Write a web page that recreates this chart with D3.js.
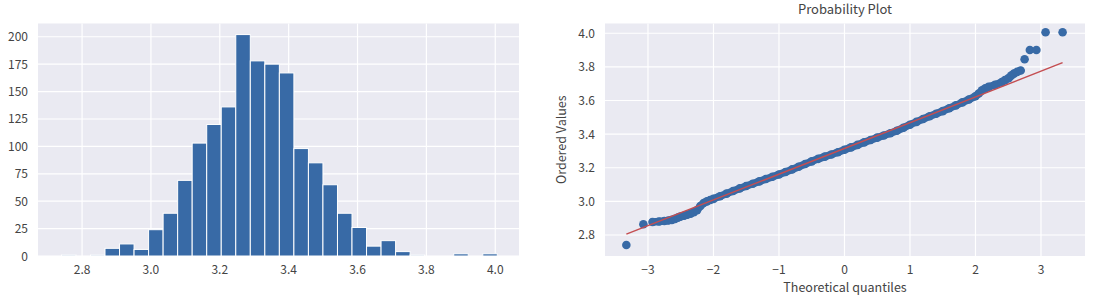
<!DOCTYPE html>
<html>
<head>
<meta charset="utf-8">
<script src="https://cdn.jsdelivr.net/npm/d3@7"></script>
<style>
  html, body { margin: 0; padding: 0; background: #fff; }
  text { font-family: "Noto Sans CJK JP", "Noto Sans", sans-serif; fill: #444; }
</style>
</head>
<body>
<div id="chart"></div>
<script>
// histogram: 30 bins between min and max of the sample
const histMin = 2.74;
const histMax = 4.006;
const histCounts = [1, 0, 1, 7, 11, 6, 24, 39, 69, 103, 120, 136, 202, 178, 175,
  167, 98, 85, 65, 39, 26, 9, 14, 4, 1, 0, 0, 2, 0, 2];
const histXTicks = [2.8, 3.0, 3.2, 3.4, 3.6, 3.8, 4.0];
const histYTicks = [0, 25, 50, 75, 100, 125, 150, 175, 200];

// probability plot: [theoretical quantile, ordered value]
const qqPoints = [
  [-3.33, 2.740], [-3.07, 2.864], [-2.93, 2.877], [-2.83, 2.880], [-2.75, 2.883],
  [-2.69, 2.886], [-2.635, 2.890], [-2.587, 2.896], [-2.545, 2.903], [-2.506, 2.909],
  [-2.45, 2.914], [-2.40, 2.920], [-2.35, 2.927], [-2.30, 2.936], [-2.25, 2.948],
  [-2.20, 2.972], [-2.15, 2.990], [-2.10, 3.000], [-2.05, 3.008], [-2.00, 3.015],
  [-1.90, 3.030], [-1.80, 3.046], [-1.70, 3.062], [-1.60, 3.077], [-1.50, 3.091],
  [-1.40, 3.105], [-1.30, 3.119], [-1.20, 3.133], [-1.10, 3.146], [-1.00, 3.160],
  [-0.90, 3.175], [-0.80, 3.190], [-0.70, 3.206], [-0.60, 3.222], [-0.50, 3.238],
  [-0.40, 3.253], [-0.30, 3.266], [-0.20, 3.279], [-0.10, 3.292], [0.00, 3.307],
  [0.10, 3.321], [0.20, 3.336], [0.30, 3.351], [0.40, 3.365], [0.50, 3.379],
  [0.60, 3.392], [0.70, 3.405], [0.80, 3.420], [0.90, 3.438], [1.00, 3.456],
  [1.10, 3.473], [1.20, 3.490], [1.30, 3.506], [1.40, 3.521], [1.50, 3.537],
  [1.60, 3.554], [1.70, 3.571], [1.80, 3.589], [1.90, 3.606], [2.00, 3.625],
  [2.05, 3.642], [2.10, 3.660], [2.15, 3.672], [2.20, 3.681], [2.30, 3.694],
  [2.40, 3.709], [2.45, 3.721], [2.506, 3.733], [2.545, 3.748], [2.587, 3.760],
  [2.635, 3.770], [2.69, 3.778], [2.75, 3.845], [2.83, 3.900], [2.93, 3.900],
  [3.07, 4.006], [3.33, 4.006]
];
// least squares fit line end points
const fitLine = [[-3.33, 2.805], [3.33, 3.825]];
const qqXTicks = [-3, -2, -1, 0, 1, 2, 3];
const qqYTicks = [2.8, 3.0, 3.2, 3.4, 3.6, 3.8, 4.0];

const W = 1101, H = 303;
const BG = "#EAEAF2";
const BLUE = "#386aa6";
const RED = "#C44E52";
const axTop = 23.5, axBottom = 256;

const svg = d3.select("#chart").append("svg")
  .attr("width", W).attr("height", H);

const fmtMinus = (v, f) => d3.format(f)(v).replace("-", "\u2212");

function frame(g, x, y, xTicks, yTicks, xf, yf) {
  const [x0, x1] = x.range();
  g.append("rect")
    .attr("x", x0).attr("y", axTop)
    .attr("width", x1 - x0).attr("height", axBottom - axTop)
    .attr("fill", BG);
  g.append("g").selectAll("line").data(xTicks).join("line")
    .attr("x1", d => x(d)).attr("x2", d => x(d))
    .attr("y1", axTop).attr("y2", axBottom)
    .attr("stroke", "#fff").attr("stroke-width", 1.2);
  g.append("g").selectAll("line").data(yTicks).join("line")
    .attr("x1", x0).attr("x2", x1)
    .attr("y1", d => y(d)).attr("y2", d => y(d))
    .attr("stroke", "#fff").attr("stroke-width", 1.2);
  g.append("g").selectAll("text").data(xTicks).join("text")
    .attr("x", d => x(d)).attr("y", axBottom + 18)
    .attr("text-anchor", "middle").style("font-size", "12px")
    .text(d => fmtMinus(d, xf));
  g.append("g").selectAll("text").data(yTicks).join("text")
    .attr("x", x0 - 10).attr("y", d => y(d) + 4.5)
    .attr("text-anchor", "end").style("font-size", "12px")
    .text(d => fmtMinus(d, yf));
}

// ---- left: histogram
{
  const x = d3.scaleLinear().domain([2.672, 4.069]).range([38, 519]);
  const y = d3.scaleLinear().domain([0, 212.1]).range([axBottom, axTop]);
  const g = svg.append("g");
  frame(g, x, y, histXTicks, histYTicks, ".1f", "d");

  const binW = (histMax - histMin) / histCounts.length;
  g.append("g").selectAll("rect").data(histCounts).join("rect")
    .attr("x", (d, i) => x(histMin + i * binW))
    .attr("width", x(histMin + binW) - x(histMin))
    .attr("y", d => y(d))
    .attr("height", d => y(0) - y(d))
    .attr("fill", BLUE)
    .attr("stroke", "#fff").attr("stroke-width", 1);
}

// ---- right: probability plot
{
  const x = d3.scaleLinear().domain([-3.656, 3.672]).range([605, 1085]);
  const y = d3.scaleLinear().domain([2.675, 4.058]).range([axBottom, axTop]);
  const g = svg.append("g");
  frame(g, x, y, qqXTicks, qqYTicks, "d", ".1f");

  // the dense middle of the sample reads as one solid band
  const dense = qqPoints.filter(d => d[0] > -3 && d[0] < 2.72);
  g.append("path")
    .attr("d", d3.line().x(d => x(d[0])).y(d => y(d[1]))(dense))
    .attr("fill", "none").attr("stroke", BLUE)
    .attr("stroke-width", 7.5).attr("stroke-linejoin", "round")
    .attr("stroke-linecap", "round");

  g.append("g").selectAll("circle").data(qqPoints).join("circle")
    .attr("cx", d => x(d[0])).attr("cy", d => y(d[1]))
    .attr("r", 4.3).attr("fill", BLUE);

  g.append("path")
    .attr("d", d3.line().x(d => x(d[0])).y(d => y(d[1]))(fitLine))
    .attr("fill", "none").attr("stroke", RED).attr("stroke-width", 1.5);

  g.append("text")
    .attr("x", 845).attr("y", 14)
    .attr("text-anchor", "middle").style("font-size", "13px")
    .text("Probability Plot");
  g.append("text")
    .attr("x", 845).attr("y", 292)
    .attr("text-anchor", "middle").style("font-size", "12.5px")
    .text("Theoretical quantiles");
  g.append("text")
    .attr("transform", `translate(566, ${(axTop + axBottom) / 2}) rotate(-90)`)
    .attr("text-anchor", "middle").style("font-size", "12.5px")
    .text("Ordered Values");
}
</script>
</body>
</html>
